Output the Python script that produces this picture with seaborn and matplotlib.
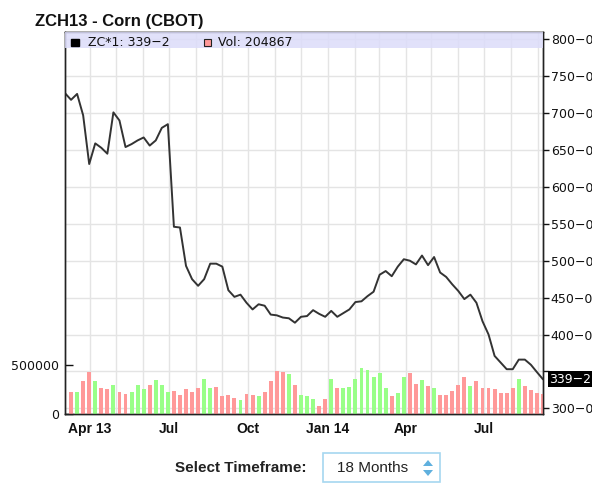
import numpy as np
import pandas as pd
import matplotlib
matplotlib.use("Agg")
import matplotlib.pyplot as plt
import matplotlib.dates as mdates
import matplotlib.transforms as mtransforms
from matplotlib.patches import Rectangle, Polygon
import seaborn as sns

# weekly closes (cents/bu), first week starts 2013-03-03
start_date = "2013-03-03"
close = [727, 718, 726, 697, 631, 659, 653, 645, 701, 690,
         654, 658, 663, 667, 656, 663, 680, 685, 546, 545,
         493, 475, 466, 475, 496, 496, 492, 460, 451, 454,
         443, 434, 441, 439, 427, 426, 423, 422, 416, 424,
         425, 433, 428, 424, 432, 424, 429, 434, 444, 445,
         452, 458, 481, 486, 479, 492, 502, 500, 495, 507,
         494, 505, 484, 478, 468, 459, 448, 454, 443, 418,
         400, 371, 362, 353, 353, 366, 366, 359, 349, 339.25]

# weekly volume, from week 2 onward
volume = [221000, 221000, 330000, 425000, 330000, 262000, 248000, 289000, 221000, 207000,
          221000, 289000, 248000, 289000, 344000, 289000, 221000, 235000, 194000, 248000,
          221000, 262000, 357000, 262000, 276000, 180000, 194000, 166000, 140000, 207000,
          194000, 180000, 221000, 330000, 439000, 425000, 400000, 289000, 194000, 177000,
          150000, 85000, 150000, 357000, 262000, 262000, 272000, 357000, 466000, 442000,
          370000, 415000, 262000, 184000, 211000, 374000, 415000, 306000, 347000, 279000,
          262000, 194000, 194000, 235000, 289000, 374000, 279000, 333000, 262000, 262000,
          252000, 211000, 211000, 262000, 357000, 279000, 238000, 211000, 204867]
vol_dir = ["dn", "up", "dn", "dn", "up", "dn", "dn", "up", "dn", "dn",
           "up", "up", "up", "dn", "up", "up", "up", "dn", "dn", "dn",
           "dn", "dn", "up", "up", "dn", "dn", "dn", "dn", "up", "dn",
           "dn", "up", "dn", "dn", "dn", "dn", "up", "dn", "up", "up",
           "up", "dn", "dn", "up", "dn", "up", "up", "up", "up", "up",
           "up", "up", "up", "dn", "up", "up", "dn", "dn", "up", "dn",
           "up", "dn", "dn", "dn", "dn", "dn", "up", "dn", "dn", "dn",
           "dn", "dn", "dn", "dn", "up", "dn", "dn", "dn", "dn"]

price_ticks = [300, 350, 400, 450, 500, 550, 600, 650, 700, 750, 800]
quarter_ticks = ["2013-04-01", "2013-07-01", "2013-10-01", "2014-01-01", "2014-04-01", "2014-07-01"]
quarter_labels = ["Apr 13", "Jul", "Oct", "Jan 14", "Apr", "Jul"]

dates = pd.date_range(start_date, periods=len(close), freq="7D")
df = pd.DataFrame({"date": dates, "close": close})
bar_colors = ["#ff9999" if d == "dn" else "#99ff88" for d in vol_dir]

sns.set_theme(style="white")
plt.rcParams["font.family"] = ["DejaVu Sans"]

W, H = 592, 483
fig = plt.figure(figsize=(W / 100, H / 100), dpi=100)
ax = fig.add_axes([65 / W, 1 - 414 / H, 478 / W, 382 / H])
ax_vol = ax.twinx()   # volume layer, drawn above the price axes

def fpx(x, y):
    return (x / W, 1 - y / H)

# price line
sns.lineplot(data=df, x="date", y="close", ax=ax, color="#333333", linewidth=1.4)
ax.set_ylim(292.3, 809.9)
ax.set_xlim(dates[0], dates[-1])
ax.set_xlabel("")
ax.set_ylabel("")

ax.yaxis.tick_right()
ax.set_yticks(price_ticks,
              labels=["" if v == 350 else f"{v}\u22120" for v in price_ticks])
ax.tick_params(axis="y", direction="out", length=4, width=1, pad=1.5,
               labelsize=9, colors="#111111")

ax.set_xticks(pd.to_datetime(quarter_ticks), labels=quarter_labels,
              fontweight="bold", fontfamily="Liberation Sans", fontsize=10)
ax.xaxis.set_minor_locator(mdates.MonthLocator())
ax.tick_params(axis="x", which="major", direction="out", length=4, width=1, pad=2,
               colors="#111111")
ax.tick_params(axis="x", which="minor", length=0)

ax.grid(True, axis="y", color="#e4e4e4", linewidth=1)
ax.grid(True, axis="x", which="both", color="#e4e4e4", linewidth=1)

# volume bars
ax_vol.bar(dates[1:], volume, width=4.5, color=bar_colors, linewidth=0)
ax_vol.set_ylim(0, 3.86e6)
ax_vol.yaxis.tick_left()
ax_vol.set_yticks([0, 500000], labels=["0", "500000"])
ax_vol.tick_params(axis="y", direction="in", length=6, width=1, pad=4,
                   labelsize=9, colors="#111111")
ax_vol.grid(False)
ax.yaxis.tick_right()

for a in (ax, ax_vol):
    for s in a.spines.values():
        s.set_color("#222222")
        s.set_linewidth(1)

# legend band
band_y = (414 - 48) / 382
ax_vol.add_patch(Rectangle((0, band_y), 1, 1 - band_y,
                           transform=ax_vol.transAxes, facecolor="#dcdcfa",
                           alpha=0.85, edgecolor="none", zorder=5))
fig.patches.append(Rectangle(fpx(71, 46), 7.5 / W, 7.5 / H, transform=fig.transFigure,
                             facecolor="black", edgecolor="black", zorder=6))
fig.text(*fpx(88, 42.5), "ZC*1: 339\u22122", fontsize=9, va="center", ha="left",
         color="#111111", zorder=6)
fig.patches.append(Rectangle(fpx(203.5, 46), 7.5 / W, 7.5 / H, transform=fig.transFigure,
                             facecolor="#ff9999", edgecolor="#222222", linewidth=0.8, zorder=6))
fig.text(*fpx(218, 42.5), f"Vol: {volume[-1]}", fontsize=9, va="center", ha="left",
         color="#111111", zorder=6)

# last price tag on right axis
trans = mtransforms.blended_transform_factory(ax.transAxes, ax.transData)
ax.text(1.0135, close[-1], "339\u22122", transform=trans, fontsize=9, color="white",
        ha="left", va="center", clip_on=False,
        bbox=dict(boxstyle="square,pad=0.12", facecolor="black", edgecolor="none"))

# title
fig.text(*fpx(35, 21.5), "ZCH13 - Corn (CBOT)", fontsize=12, fontweight="bold",
         fontfamily="Liberation Sans", va="center", ha="left", color="#111111")

# timeframe selector
fig.text(*fpx(175, 467.5), "Select Timeframe:", fontsize=11, fontweight="bold",
         fontfamily="Liberation Sans", va="center", ha="left", color="#222222")
fig.patches.append(Rectangle(fpx(323, 482), 117 / W, 29 / H, transform=fig.transFigure,
                             facecolor="white", edgecolor="#a6d7f0", linewidth=1.2))
fig.text(*fpx(337, 467.5), "18 Months", fontsize=11, fontfamily="Liberation Sans",
         va="center", ha="left", color="#222222")
fig.patches.append(Polygon([fpx(423, 466), fpx(433, 466), fpx(428, 460)],
                           closed=True, transform=fig.transFigure,
                           facecolor="#5fb0de", edgecolor="none"))
fig.patches.append(Polygon([fpx(423, 470), fpx(433, 470), fpx(428, 476)],
                           closed=True, transform=fig.transFigure,
                           facecolor="#5fb0de", edgecolor="none"))

fig.savefig("out.png", dpi=100, facecolor="white")
